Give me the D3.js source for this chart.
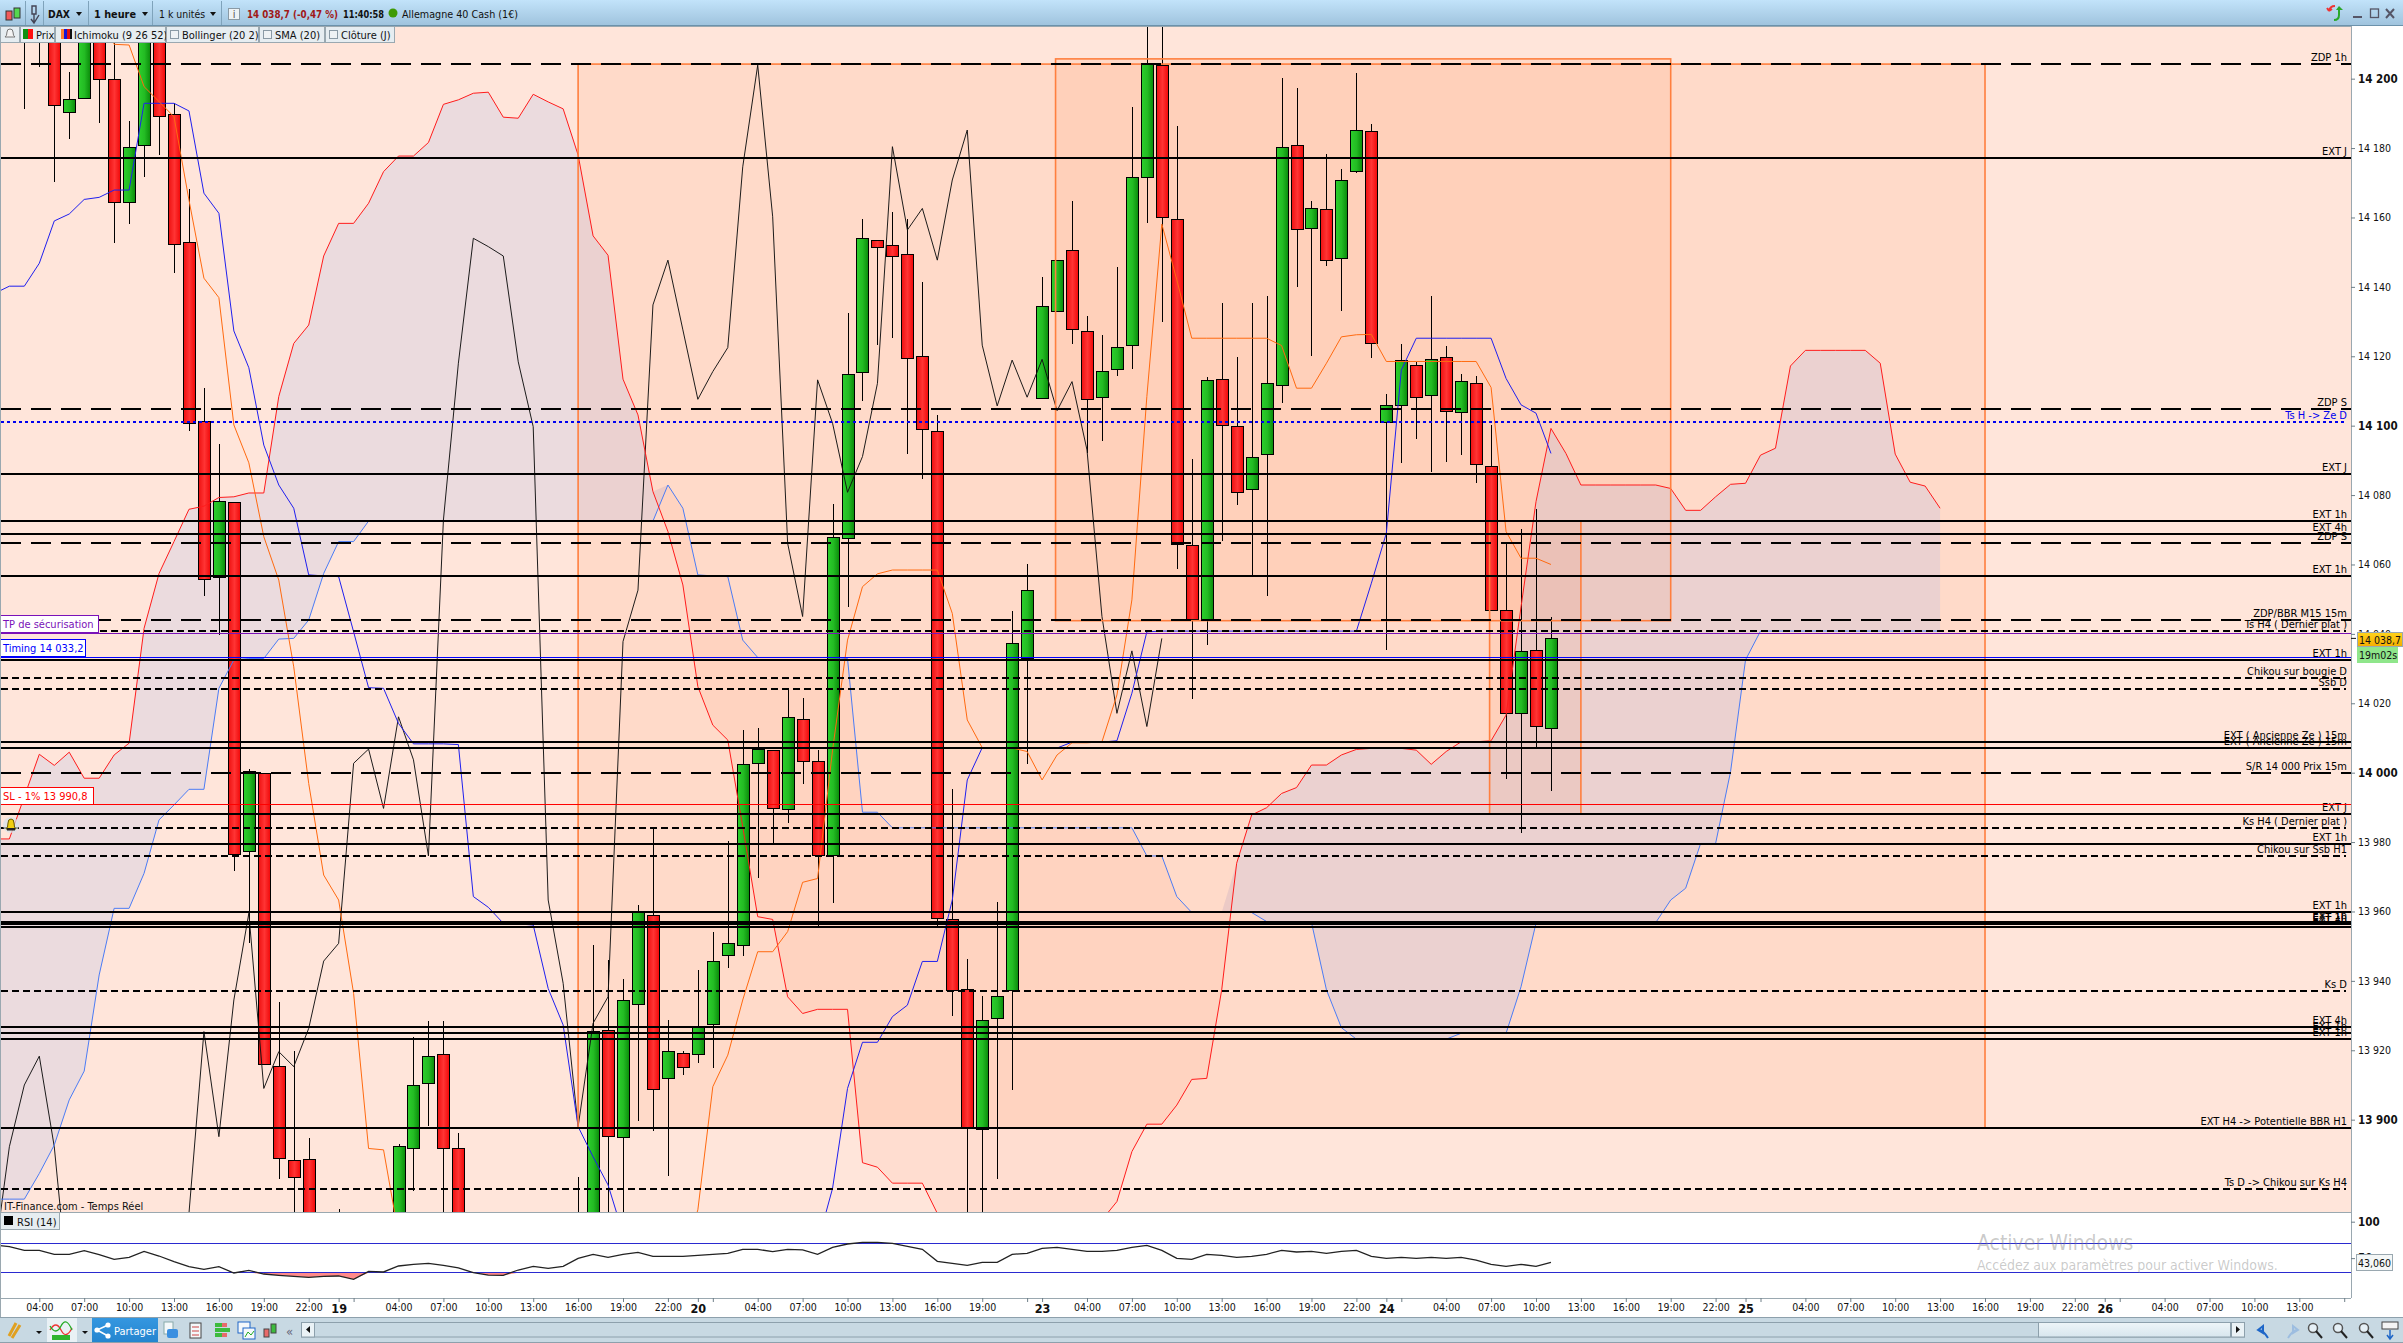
<!DOCTYPE html>
<html>
<head>
<meta charset="utf-8">
<script src="https://cdn.jsdelivr.net/npm/d3@7/dist/d3.min.js"></script>
<style>
  html, body { margin: 0; padding: 0; background: #fff; overflow: hidden; }
  text { font-family: "DejaVu Sans Condensed", "DejaVu Sans", sans-serif; font-stretch: condensed; }
</style>
</head>
<body>
<div id="chart"></div>
<script>
// candles, first one is bar index -1 (04:00 on the 18th is index 0)
const candleOpen = [
  14225,14225,14224,14190.2,14194.3,14222,14199.8,14164.4,14180.8,14222,
  14189.7,14152.8,14101.2,14056.3,14077.9,13977.3,13999.8,13915.4,13888.2,13888.6,
  13858,13860,13850,13848,13855,13865,13891.7,13910.5,13918.8,13891.7,
  13858,13850,13842,13850,13846,13852,13848,13858,13868,13925.6,
  13894.9,13933.2,13958.9,13911.9,13919,13918.8,13927.5,13947.4,13950.2,14002.7,
  14006.3,13989.4,14015.4,14003.3,13976,14067.5,14115.4,14153.4,14152,14149.4,
  14119.9,14098.4,13957.7,13937.6,13897.1,13929.2,13937.2,14032.8,14107.9,14132.9,
  14150.5,14127.2,14108.2,14116.2,14123.2,14171.6,14203.7,14159.5,14065.5,14044,
  14113.4,14099.8,14081.7,14091.7,14111.6,14180.8,14156.8,14162.3,14148.2,14173.3,
  14184.8,14101,14105.9,14117.4,14108.7,14119.7,14103.8,14112.2,14088.3,14046.8,
  14017.1,14035.3,14012.8
];
const candleHigh = [
  14230,14230,14230,14202,14225,14225,14222,14187.8,14225,14225,
  14192.9,14168.2,14111,14094.7,14077.9,14001.2,13999.8,13933.9,13919.8,13894.7,
  13866,13874.4,13860,13862,13868,13892.9,13923.7,13928.4,13928.4,13896.3,
  13868,13860,13856,13862,13858,13865,13862,13883.6,13950.3,13946,
  13940.5,13961.9,13984.1,13928.7,13919.8,13943.2,13954,13980.3,14012.3,14012.8,
  14006.3,14023.8,14021.4,14006.5,14077.4,14132.4,14159.6,14153.4,14161.6,14159.6,
  14141.4,14103.1,13995.3,13946.3,13935.6,13962.8,14046.5,14060.1,14142.8,14147.6,
  14164.7,14131.6,14126.1,14145.7,14191.8,14217,14217,14186.5,14090.4,14113.9,
  14135.4,14119.8,14135.4,14137.4,14200.2,14197.3,14164.7,14178.3,14174,14201.6,
  14186.9,14109.1,14123.5,14118.4,14137.4,14123,14114.9,14114.3,14100.3,14066.1,
  14070.2,14075.9,14044.8
];
const candleLow = [
  14191.4,14203.5,14170.3,14182.6,14194.3,14187.3,14152.7,14158.1,14171.8,14178,
  14144.1,14098.6,14051,14039.7,13971.8,13950.8,13915.9,13882.8,13865,13850,
  13845,13850,13840,13838,13845,13860,13879.3,13898.3,13865,13850,
  13845,13838,13835,13840,13838,13842,13840,13850,13860,13870,
  13870,13899.7,13896.8,13883.9,13912.9,13916.4,13915,13943.8,13947.2,13969.7,
  13979.6,13985.4,13996.7,13955.8,13962.3,14047.8,14107.1,14123.2,14125.4,14091.8,
  14084.6,13955.8,13929.9,13860,13860,13882.9,13908.5,14002.5,14107.9,14132.9,
  14123.5,14092,14095.7,14114.3,14116.4,14158.5,14130,14058.8,14021.3,14036.8,
  14066.9,14077.1,14057,14051,14106.6,14140.1,14120.2,14146.1,14133,14172.9,
  14119.6,14035.4,14089.3,14096.3,14086.7,14089.6,14091.5,14083.6,14046.7,13998.2,
  13982.7,14007.5,13994.8
];
const candleClose = [
  14220,14220,14192.3,14194,14222,14199.8,14164.4,14180.2,14222,14189.1,
  14152.3,14100.7,14055.7,14078.2,13976.5,14000.3,13915.9,13888.9,13883.4,13860,
  13850,13866,13845,13855,13860,13892.2,13909.9,13918.3,13891.7,13860,
  13850,13842,13850,13846,13852,13848,13858,13868,13925.4,13895.2,
  13934.4,13959.7,13908.7,13919.6,13915.1,13926.6,13945.6,13950.8,14002.4,14006.7,
  13989.7,14015.9,14003.3,13976,14067.8,14114.8,14154,14151.4,14148.8,14119.4,
  14098.9,13958,13937.2,13897.7,13928.6,13935.5,14037.3,14052.5,14134.4,14147.6,
  14127.8,14107.6,14115.7,14122.6,14171.6,14204.2,14160,14065.8,14044,14113.1,
  14100.1,14080.8,14090.9,14112.2,14180.2,14156.4,14162.6,14147.6,14170.7,14185.1,
  14123.7,14105.8,14118.8,14108.2,14119.1,14104.1,14112.8,14088.9,14046.7,14017.1,
  14035,14013.4,14038.7
];

// ichimoku lines, all start at bar index -3
const ssaLine = [
  13980.9,13980.9,13993.1,14005.3,14002.1,14005.9,13998.4,13998.4,14005.1,14008.5,
  14041.6,14057.4,14066.6,14075.9,14076.8,14079.3,14079.5,14080.6,14080.6,14108.4,
  14123.7,14129,14148.9,14158.3,14158.3,14164.1,14173.2,14177.7,14177.7,14181.6,
  14192.6,14193.9,14195.8,14196.1,14188.9,14188.6,14195.5,14193.3,14191.3,14178,
  14154.7,14149.1,14113.4,14103.1,14081,14069.5,14054.1,14024.8,14013.7,14009.4,
  13984.4,13958.5,13957.7,13935.4,13930.6,13931.8,13931.8,13931.8,13887.6,13886.3,
  13881.7,13881.7,13881.7,13873,13865,13860,13858,13858,13858,13858,
  13860,13862,13864,13868,13871.1,13876.4,13890.8,13898.7,13898.7,13904.2,
  13911.6,13911.9,13937.4,13973.9,13987.8,13989.9,13994,13995.7,14002.2,14002.2,
  14005.1,14006.7,14007,14007,14007,14006.5,14002.4,14006.1,14008.9,14008.9,
  14009.2,14016.6,14047.8,14078.1,14099.2,14092,14082.9,14082.9,14082.9,14082.9,
  14082.9,14082.9,14081.9,14075.6,14075.6,14079.5,14083.1,14083.4,14091.5,14093.5,
  14117.2,14121.7,14121.7,14121.7,14121.7,14121.7,14118,14091.8,14083.7,14082.6,14076.2
];
const ssbLine = [
  13877.1,13877.1,13877.1,13884.5,13892.7,13905.7,13914,13941.7,13960.9,13960.9,
  13971,13986.4,13990.7,13995.2,13995.2,14024.3,14032.5,14032.9,14032.9,14038.5,
  14038.7,14044,14057.4,14066.6,14066.6,14072.5,14072.5,14072.5,14072.5,14072.5,
  14072.5,14072.5,14072.5,14072.5,14072.5,14072.5,14072.5,14072.5,14072.5,14072.5,
  14072.5,14072.5,14072.5,14072.5,14072.5,14082.9,14076.2,14057,14056.7,14056.5,
  14038.2,14033.2,14033.2,14033.2,14033.2,14033.2,14033.2,14032.9,13988.6,13988.6,
  13984.1,13984.1,13984.1,13984.1,13984.1,13984.1,13984.1,13984.1,13984.1,13984.1,
  13984.1,13984.1,13984.1,13984.1,13984.1,13984.1,13984.1,13976,13976,13964.3,
  13959.7,13959.7,13959.7,13959.7,13959.7,13957.1,13956.8,13956.8,13956.8,13937.4,
  13926.5,13923.2,13923.2,13923.2,13923.2,13923.2,13923.2,13923.2,13924.9,13924.9,
  13924.9,13924.9,13938.3,13956.6,13956.8,13956.8,13956.8,13956.8,13956.8,13956.8,
  13956.8,13956.8,13963.3,13966.7,13979.6,13979.6,14000.3,14032.5,14040.8,14040.8,
  14040.8,14040.8,14040.8,14040.8,14040.8,14040.8,14040.8,14040.8,14040.8,14040.8,14040.8
];
const kijunLine = [
  14138.1,14140.2,14140.2,14146.8,14159,14161,14165.2,14165.8,14167.9,14167.9,
  14192.9,14192.9,14192.9,14190.7,14167,14161.2,14127.3,14116.7,14094.4,14082.9,
  14076.2,14057,14056.7,14056.5,14040.6,14024.5,14024.3,14014.2,14008.3,14008.3,
  14008.3,14008.1,13964.3,13961.2,13956.6,13956.4,13956.1,13937.8,13927.3,13898,
  13889.3,13881.2,13867.2,13860,13860,13860,13860,13860,13860,13860,
  13860,13860,13860,13860,13860,13864.4,13880.2,13909,13922.3,13922.3,
  13929.7,13933,13945.6,13945.6,13963.3,13997.9,14007.2,14007.1,14007.1,14007.1,
  14007.1,14007.1,14008.8,14008.8,14008.8,14009.2,14022.9,14040.6,14040.8,14040.8,
  14040.8,14040.8,14040.8,14040.8,14040.8,14040.8,14040.8,14040.8,14040.8,14040.8,
  14040.8,14040.8,14054.6,14069,14116,14125.2,14125.2,14125.2,14125.2,14125.2,
  14125.2,14113.6,14106,14103.6,14092
];
const tenkanLine = [
  14222,14222,14222,14222,14222,14222,14222,14222,14209.9,14209.7,
  14197.7,14193.4,14189,14165,14142.5,14136.9,14100.2,14089.3,14068,14055.5,
  14030.5,13996.9,13970.5,13963.3,13936.4,13891.7,13891.3,13867,13860,13860,
  13860,13860,13860,13860,13860,13860,13860,13860,13860,13860,
  13860,13860,13860,13860,13860,13860,13860,13874,13909.5,13918.6,
  13934.5,13948.4,13948.4,13954.2,13968.4,13969.5,14006.5,14038.2,14053.6,14057.3,
  14058.4,14058.4,14058.4,14058.4,14045.9,14015.2,14007.2,14007.1,14007.1,14006.1,
  13997.9,14005.1,14008.6,14008.6,14008.9,14022.4,14049.8,14108.4,14158.1,14142,
  14125.2,14125.2,14125.2,14125.2,14125.2,14125.2,14123.1,14110.8,14110.8,14118,
  14125.6,14126.2,14126.3,14118.5,14118.5,14118.5,14118.5,14118.5,14118.5,14118.5,
  14111,14069.5,14061.8,14061.8,14060
];
const chikouLine = [
  13860,13892.2,13910,13918.3,13892.2,13848,13850,13850,13850,13850,
  13850,13850,13850,13873,13925.4,13895.1,13934.5,13959.5,13909,13919.6,
  13915.3,13926.3,13945.7,13950.8,14002.7,14006.8,13989.7,14016.1,14003.7,13976,
  14072.8,14118,14154,14151.6,14148.9,14118.4,14099.7,13963.3,13939.3,13898,
  13927.8,13935.4,14037.8,14052.6,14134.8,14147.7,14127.6,14107.6,14115.6,14122.5,
  14174.6,14203.9,14160.2,14066.1,14045,14113.2,14100.7,14080.8,14091.1,14112.2,
  14180.4,14156.4,14162.6,14147.7,14170.8,14185.2,14123.2,14105.7,14118.9,14108.2,
  14119.1,14104.3,14112.7,14093,14045,14017.1,14035.1,14013.3,14038.7
];

// RSI (14), starts at bar index -3
const rsiLine = [
  68,65.7,60.7,60.7,55.2,55.2,60.2,54.8,48.3,51.1,
  59.3,52.9,45.1,38.3,34.6,38.3,29.6,33.3,28.2,26.4,
  25,23.6,25,25.5,20.9,31.9,31,39.2,41.5,42.9,
  40.1,36.5,30.1,26.8,26.4,33.7,38.7,36,38.7,49.7,
  55.2,51.1,55.2,58,52.5,52.5,52.5,53.8,55.2,56.6,
  62.1,62.1,58.9,62.1,61.2,55.2,64.8,69.4,71.7,71.7,
  70.3,66.2,62.1,45.6,42.9,40.1,44.2,44.2,55.2,56.6,
  63.4,64.8,62.1,59.3,59.3,60.7,64.8,67.6,60.7,49.7,
  48.3,55.2,53.8,51.1,52.5,55.2,60.7,58.4,59.3,56.6,
  59.3,60.7,52.5,49.7,51.1,49.7,51.1,49.7,51.1,47.4,
  41.5,38.7,41.5,38.7,44.2
];

// horizontal levels
const solidLevels = [14177.1,14086.1,14072.5,14068.8,14056.7,14032.5,14008.8,14007.1,13988.1,13979.4,13959.8,13956.9,13956.3,13955.6,13926.7,13925,13923.2,13897.6];
const solidLabels = ["EXT J","EXT J","EXT 1h","EXT 4h","EXT 1h","EXT 1h","EXT ( Ancienne Ze ) 15m","EXT ( Ancienne Ze ) 15m","EXT J","EXT 1h","EXT 1h","EXT 1h","EXT 1h","EXT 4h","EXT 4h","EXT 1h","EXT 1h","EXT H4 -> Potentielle BBR H1"];
const dashedLevels = [14204.2,14104.8,14066.2,14044,14000];
const dashedLabels = ["ZDP 1h","ZDP S","ZDP S","ZDP/BBR M15 15m","S/R 14 000 Prix 15m"];
const dottedLevels = [14040.8,14027.3,14024.1,13984.1,13976,13937.1,13880];
const dottedLabels = ["Ts H4 ( Dernier plat )","Chikou sur bougie D","Ssb D","Ks H4 ( Dernier plat )","Chikou sur Ssb H1","Ks D","Ts D -> Chikou sur Ks H4"];
const blueDottedLevels = [14101.1];
const blueDottedLabels = ["Ts H -> Ze D"];

// orders drawn on the chart
const orderLevels = [14040.2,14033.2,13990.8];
const orderLabels = ["TP de sécurisation","Timing 14 033,2","SL - 1% 13 990,8"];

// session boxes, in bar index and price
const boxStart = [36,67.9,96.9];
const boxEnd = [130,109,103];
const boxHigh = [14204.2,14205.7,14072.5];
const boxLow = [13897.6,14043.8,13988.1];

// axes
const priceTicks = [14200,14180,14160,14140,14120,14100,14080,14060,14040,14020,14000,13980,13960,13940,13920,13900];
const boldPrices = [14200,14100,14000,13900];
const timeTickIdx = [0,3,6,9,12,15,18,20,21,24,27,30,33,36,39,42,44,45,48,51,54,57,60,63,66,67,70,73,76,79,82,85,88,90,91,94,97,100,103,106,109,112,114,115,118,121,124,127,130,133,136,138,139,142,145,148,151,154];
const timeTickLbl = ["04:00","07:00","10:00","13:00","16:00","19:00","22:00","19","","04:00","07:00","10:00","13:00","16:00","19:00","22:00","20","","04:00","07:00","10:00","13:00","16:00","19:00","","23","04:00","07:00","10:00","13:00","16:00","19:00","22:00","24","","04:00","07:00","10:00","13:00","16:00","19:00","22:00","25","","04:00","07:00","10:00","13:00","16:00","19:00","22:00","26","","04:00","07:00","10:00","13:00",""];

const W = 2403, H = 1343;
const plotR = 2351, plotT = 26, plotB = 1212, rsiB = 1298;

const svg = d3.select("#chart").append("svg").attr("width", W).attr("height", H);
const defs = svg.append("defs");

function grad(id, stops, vertical) {
  const g = defs.append("linearGradient").attr("id", id)
    .attr("x1", 0).attr("y1", 0).attr("x2", vertical ? 0 : 1).attr("y2", vertical ? 1 : 0);
  stops.forEach((c, i) => g.append("stop").attr("offset", i / (stops.length - 1)).attr("stop-color", c));
}
grad("upBar", ["#2ccf2c", "#23bb23", "#0a8a0a"]);
grad("downBar", ["#ee1010", "#ff3434", "#f00808"]);
grad("topBar", ["#c2e3fa", "#9fc3dd"], true);
grad("tagYellow", ["#ffd31c", "#f4ad00"], true);
grad("btnBlue", ["#3497e0", "#2585cf"], true);
grad("thumb", ["#eef5f8", "#d8e6ee"], true);

defs.append("clipPath").attr("id", "plotClip").append("rect")
  .attr("x", 0).attr("y", plotT).attr("width", plotR).attr("height", plotB - plotT);

const x = d3.scaleLinear().domain([0, 154]).range([39.3, 39.3 + 154 * 14.967]);
const y = d3.scaleLinear().domain([13900, 14200]).range([1119.67, 78.67]);
const rsiY = d3.scaleLinear().domain([30, 100]).range([1272.7, 1221.7]);

svg.append("rect").attr("width", W).attr("height", H).attr("fill", "#fff");
svg.append("rect").attr("y", plotT).attr("width", plotR).attr("height", plotB - plotT).attr("fill", "#ffe5da");

const plot = svg.append("g").attr("clip-path", "url(#plotClip)");

// session boxes fill
const boxIdx = d3.range(boxStart.length);
plot.selectAll(".boxFill").data(boxIdx).enter().append("rect")
  .attr("x", i => x(boxStart[i])).attr("width", i => x(boxEnd[i]) - x(boxStart[i]))
  .attr("y", i => y(boxHigh[i])).attr("height", i => y(boxLow[i]) - y(boxHigh[i]))
  .attr("fill", "rgb(255,127,63)").attr("fill-opacity", 0.1);

// cloud
const cloudIdx = d3.range(ssaLine.length);
const barX = i => x(i - 3);
plot.append("path").datum(cloudIdx)
  .attr("d", d3.area().x(barX).y0(i => y(ssbLine[i])).y1(i => y(Math.max(ssaLine[i], ssbLine[i]))))
  .attr("fill", "rgb(97,154,255)").attr("fill-opacity", 0.13);
plot.append("path").datum(cloudIdx)
  .attr("d", d3.area().x(barX).y0(i => y(ssaLine[i])).y1(i => y(Math.max(ssaLine[i], ssbLine[i]))))
  .attr("fill", "rgb(255,110,50)").attr("fill-opacity", 0.06);

// candles
const candleIdx = d3.range(candleOpen.length);
const candleX = i => Math.round(x(i - 1));
const wicks = plot.append("g").attr("shape-rendering", "crispEdges");
wicks.selectAll("line").data(candleIdx).enter().append("line")
  .attr("x1", i => candleX(i) + 0.5).attr("x2", i => candleX(i) + 0.5)
  .attr("y1", i => y(candleHigh[i])).attr("y2", i => y(candleLow[i]))
  .attr("stroke", "#000").attr("stroke-width", 1);
const bodies = plot.append("g").attr("shape-rendering", "crispEdges");
bodies.selectAll("rect").data(candleIdx).enter().append("rect")
  .attr("x", i => candleX(i) - 5.5).attr("width", 12)
  .attr("y", i => y(Math.max(candleOpen[i], candleClose[i])))
  .attr("height", i => Math.abs(y(candleOpen[i]) - y(candleClose[i])))
  .attr("fill", i => candleClose[i] >= candleOpen[i] ? "url(#upBar)" : "url(#downBar)")
  .attr("stroke", "#000").attr("stroke-width", 1);

// ichimoku lines
function drawLine(values, color, width, opacity) {
  plot.append("path").datum(values)
    .attr("d", d3.line().x((d, i) => x(i - 3)).y(d => y(d)))
    .attr("fill", "none").attr("stroke", color).attr("stroke-width", width).attr("stroke-opacity", opacity);
}
drawLine(chikouLine, "#111", 1, 0.95);
drawLine(ssbLine, "#4b7cf5", 1, 1);
drawLine(ssaLine, "#ff1c1c", 1, 1);
drawLine(kijunLine, "#1f1fef", 1, 1);
drawLine(tenkanLine, "#ff6a10", 1, 1);

// session boxes outline
plot.selectAll(".boxEdge").data(boxIdx).enter().append("rect")
  .attr("x", i => x(boxStart[i])).attr("width", i => x(boxEnd[i]) - x(boxStart[i]))
  .attr("y", i => y(boxHigh[i])).attr("height", i => y(boxLow[i]) - y(boxHigh[i]))
  .attr("fill", "none").attr("stroke", "#ff7f3f").attr("stroke-width", 1.6);

// levels
function drawLevels(levels, labels, color, width, dash, endX) {
  const g = svg.append("g").attr("shape-rendering", "crispEdges");
  g.selectAll("line").data(levels).enter().append("line")
    .attr("x1", 1).attr("x2", endX)
    .attr("y1", d => Math.round(y(d))).attr("y2", d => Math.round(y(d)))
    .attr("stroke", color).attr("stroke-width", width).attr("stroke-dasharray", dash);
  svg.append("g").selectAll("text").data(labels).enter().append("text")
    .attr("x", 2347).attr("y", (d, i) => y(levels[i]) - 3)
    .attr("text-anchor", "end").attr("font-size", 11).attr("fill", color).text(d => d);
}
drawLevels(dottedLevels, dottedLabels, "#000", 2, "7 4", 2346);
drawLevels(blueDottedLevels, blueDottedLabels, "#0000ee", 2, "3 3", 2346);
drawLevels(dashedLevels, dashedLabels, "#000", 2, "20 10", plotR);
drawLevels(solidLevels, solidLabels, "#000", 2, null, plotR);

// order lines with their boxes
const orderColor = ["#7a12b8", "#0000ff", "#ff0000"];
const orderBoxW = [98, 85, 93];
const orderLines = svg.append("g").attr("shape-rendering", "crispEdges");
orderLevels.forEach((lvl, i) => {
  orderLines.append("line").attr("x1", 1).attr("x2", plotR).attr("y1", y(lvl)).attr("y2", y(lvl))
    .attr("stroke", orderColor[i]).attr("stroke-width", 1);
  orderLines.append("rect").attr("x", 0.5).attr("y", y(lvl) - 17.5).attr("width", orderBoxW[i]).attr("height", 17)
    .attr("fill", "#fff").attr("stroke", orderColor[i]);
  svg.append("text").attr("x", 3).attr("y", y(lvl) - 5).attr("font-size", 11)
    .attr("fill", orderColor[i]).text(orderLabels[i]);
});

// bell on the alert level
const bell = svg.append("g").attr("transform", "translate(11,825)");
bell.append("circle").attr("r", 8).attr("fill", "#d6e3ea").attr("opacity", 0.7);
bell.append("path").attr("d", "M-5,4 Q-3,3 -3,-2 Q-3,-6 0,-6 Q3,-6 3,-2 Q3,3 5,4 Z").attr("fill", "#f0cf10").attr("stroke", "#6a5a00");
bell.append("rect").attr("x", -4).attr("y", 3).attr("width", 8).attr("height", 2.5).attr("fill", "#222");

svg.append("text").attr("x", 4).attr("y", 1210).attr("font-size", 11).attr("fill", "#111").text("IT-Finance.com - Temps Réel");

// RSI panel
const rsiIdx = d3.range(rsiLine.length);
svg.append("path").datum(rsiIdx)
  .attr("d", d3.area().x(barX).y0(rsiY(30)).y1(i => rsiY(Math.min(rsiLine[i], 30))))
  .attr("fill", "#ff8a8a");
svg.append("g").attr("shape-rendering", "crispEdges").selectAll("line").data([70, 30]).enter().append("line")
  .attr("x1", 0).attr("x2", plotR).attr("y1", d => rsiY(d)).attr("y2", d => rsiY(d))
  .attr("stroke", "#2a2ad0").attr("stroke-width", 1);
svg.append("path").datum(rsiLine)
  .attr("d", d3.line().x((d, i) => x(i - 3)).y(d => rsiY(d)))
  .attr("fill", "none").attr("stroke", "#222").attr("stroke-width", 1.3);

svg.append("g").attr("shape-rendering", "crispEdges").selectAll("line")
  .data([[plotT, plotT], [plotB, plotB], [rsiB, rsiB]]).enter().append("line")
  .attr("x1", 0).attr("x2", plotR).attr("y1", d => d[0]).attr("y2", d => d[1]).attr("stroke", "#9aa8b0");
svg.append("line").attr("x1", plotR + 0.5).attr("x2", plotR + 0.5).attr("y1", plotT).attr("y2", rsiB).attr("stroke", "#9aa8b0");
svg.append("line").attr("x1", 0.5).attr("x2", 0.5).attr("y1", plotT).attr("y2", H).attr("stroke", "#9aa8b0");

// RSI legend
svg.append("rect").attr("x", 0.5).attr("y", plotB + 0.5).attr("width", 59).attr("height", 17).attr("fill", "#e6edf1").attr("stroke", "#9aa8b0");
svg.append("rect").attr("x", 4).attr("y", 1216).attr("width", 9).attr("height", 9).attr("fill", "#000");
svg.append("text").attr("x", 17).attr("y", 1226).attr("font-size", 11).attr("fill", "#111").text("RSI (14)");

// price axis
const fmtPrice = v => String(v).replace(/(\d+)(\d{3})$/, "$1 $2");
const priceAxis = svg.append("g").attr("transform", `translate(${plotR},0)`)
  .call(d3.axisRight(y).tickValues(priceTicks).tickFormat(fmtPrice).tickSize(4).tickPadding(3));
priceAxis.select(".domain").remove();
priceAxis.selectAll("line").attr("stroke", "#6f7f88");
priceAxis.selectAll("text")
  .attr("fill", "#111")
  .attr("font-size", d => boldPrices.includes(d) ? 11.5 : 10.5)
  .attr("font-weight", d => boldPrices.includes(d) ? "bold" : "normal");

// RSI axis
const rsiAxis = svg.append("g").attr("transform", `translate(${plotR},0)`)
  .call(d3.axisRight(rsiY).tickValues([100, 50]).tickSize(4).tickPadding(3));
rsiAxis.select(".domain").remove();
rsiAxis.selectAll("line").attr("stroke", "#6f7f88");
rsiAxis.selectAll("text").attr("fill", "#111").attr("font-size", 11.5).attr("font-weight", "bold");

// time axis
const timeAxis = svg.append("g").attr("transform", `translate(0,${rsiB})`)
  .call(d3.axisBottom(x).tickValues(timeTickIdx)
    .tickFormat(d => timeTickLbl[timeTickIdx.indexOf(d)]).tickSize(4).tickPadding(2));
timeAxis.select(".domain").remove();
timeAxis.selectAll("line").attr("stroke", "#6f7f88");
timeAxis.selectAll("text").attr("fill", "#111")
  .attr("font-size", d => timeTickLbl[timeTickIdx.indexOf(d)].length < 3 ? 12.5 : 10.5)
  .attr("font-weight", d => timeTickLbl[timeTickIdx.indexOf(d)].length < 3 ? "bold" : "normal");

// last price tags
svg.append("rect").attr("x", 2357.5).attr("y", 632.5).attr("width", 45).attr("height", 14).attr("fill", "url(#tagYellow)").attr("stroke", "#9aa8b0");
svg.append("text").attr("x", 2359).attr("y", 643.5).attr("font-size", 10.5).attr("fill", "#111").text("14 038,7");
svg.append("rect").attr("x", 2357).attr("y", 647).attr("width", 41).attr("height", 16).attr("fill", "#8fe68b");
svg.append("text").attr("x", 2359).attr("y", 659).attr("font-size", 10.5).attr("fill", "#111").text("19m02s");
svg.append("line").attr("x1", plotR).attr("x2", plotR + 5).attr("y1", y(14038.7)).attr("y2", y(14038.7)).attr("stroke", "#111");

svg.append("rect").attr("x", 2356.5).attr("y", 1254.5).attr("width", 36).attr("height", 16).attr("fill", "#f4f7f7").attr("stroke", "#9aa8b0");
svg.append("text").attr("x", 2358).attr("y", 1267).attr("font-size", 10.5).attr("fill", "#111").text("43,060");

// windows watermark
svg.append("text").attr("x", 1977).attr("y", 1250).attr("font-size", 21).attr("fill", "#7f7f7f").attr("fill-opacity", 0.42).text("Activer Windows");
svg.append("text").attr("x", 1977).attr("y", 1270).attr("font-size", 14).attr("fill", "#7f7f7f").attr("fill-opacity", 0.42).text("Accédez aux paramètres pour activer Windows.");

// top toolbar
const topBar = svg.append("g");
topBar.append("rect").attr("width", W).attr("height", 25.5).attr("fill", "url(#topBar)");
topBar.append("line").attr("x1", 0).attr("x2", W).attr("y1", 25.5).attr("y2", 25.5).attr("stroke", "#6c92ab");
[25, 43, 88, 152, 221].forEach(sx => topBar.append("line").attr("x1", sx + 0.5).attr("x2", sx + 0.5).attr("y1", 1).attr("y2", 25).attr("stroke", "#7fa3bb"));
topBar.append("rect").attr("x", 6).attr("y", 11).attr("width", 6).attr("height", 9).attr("fill", "#f25a5a").attr("stroke", "#333");
topBar.append("rect").attr("x", 14).attr("y", 8).attr("width", 6).attr("height", 10).attr("fill", "#55d84f").attr("stroke", "#333");
topBar.append("path").attr("d", "M32,6 L36,6 L36,14 L32,14 Z M34,14 L34,22 M31,19 L34,23 L39,15").attr("fill", "none").attr("stroke", "#445").attr("stroke-width", 1.4);
const topTexts = [
  ["DAX", 48, "bold", "#111", 22], ["1 heure", 94, "bold", "#111", 42], ["1 k unités", 159, "normal", "#111", 46],
  ["14 038,7 (-0,47 %)", 247, "bold", "#a01818", 91], ["11:40:58", 343, "bold", "#111", 41], ["Allemagne 40 Cash (1€)", 402, "normal", "#111", 116]
];
topTexts.forEach(t => topBar.append("text").attr("x", t[1]).attr("y", 18).attr("font-size", 11)
  .attr("font-weight", t[2]).attr("fill", t[3])
  .attr("textLength", t[4]).attr("lengthAdjust", "spacingAndGlyphs").text(t[0]));
[79, 145, 213].forEach(sx => topBar.append("path").attr("d", `M${sx - 3},12 L${sx + 3},12 L${sx},16 Z`).attr("fill", "#111"));
topBar.append("rect").attr("x", 228.5).attr("y", 8.5).attr("width", 11).attr("height", 11).attr("fill", "#eef3f6").attr("stroke", "#8a9aa5");
topBar.append("text").attr("x", 234).attr("y", 18).attr("font-size", 11).attr("text-anchor", "middle").attr("fill", "#555").text("i");
topBar.append("circle").attr("cx", 393).attr("cy", 13).attr("r", 4.5).attr("fill", "#3f9a05");
topBar.append("path").attr("d", "M2329,11 Q2330,6 2335,6 M2329,11 L2327,8 M2329,11 L2332,9").attr("fill", "none").attr("stroke", "#e33").attr("stroke-width", 2);
topBar.append("path").attr("d", "M2339,9 L2339,15 Q2339,20 2334,20").attr("fill", "none").attr("stroke", "#2aa82a").attr("stroke-width", 2);
topBar.append("path").attr("d", "M2336,10 L2339,6 L2343,10 Z").attr("fill", "#2aa82a");
topBar.append("line").attr("x1", 2353).attr("x2", 2362).attr("y1", 17).attr("y2", 17).attr("stroke", "#556").attr("stroke-width", 2);
topBar.append("rect").attr("x", 2370.5).attr("y", 9).attr("width", 8).attr("height", 8.5).attr("fill", "none").attr("stroke", "#556").attr("stroke-width", 1.3);
topBar.append("path").attr("d", "M2386,9 L2394,18 M2394,9 L2386,18").attr("stroke", "#556").attr("stroke-width", 2);

// indicator legend row
const cellX = [0, 20, 55, 166, 259, 325];
const cellW = [19, 34, 110, 92, 65, 69];
const cellText = ["", "Prix", "Ichimoku (9 26 52)", "Bollinger (20 2)", "SMA (20)", "Clôture (J)"];
const cellTextX = [0, 36, 74, 182, 275, 341];
const legend = svg.append("g");
cellX.forEach((cx, i) => {
  legend.append("rect").attr("x", cx + 0.5).attr("y", 26.5).attr("width", cellW[i]).attr("height", 16).attr("fill", "#e6edf1").attr("stroke", "#9aa8b0");
  legend.append("text").attr("x", cellTextX[i]).attr("y", 39).attr("font-size", 11).attr("fill", "#111").text(cellText[i]);
});
legend.append("path").attr("d", "M5,37 Q7,36 7,32 Q7,29 10,29 Q13,29 13,32 Q13,36 15,37 Z").attr("fill", "#f4f4f4").attr("stroke", "#777");
legend.append("rect").attr("x", 23).attr("y", 29).attr("width", 5).attr("height", 10).attr("fill", "#0f8f0f");
legend.append("rect").attr("x", 28).attr("y", 29).attr("width", 5).attr("height", 10).attr("fill", "#ff1010");
legend.append("rect").attr("x", 61).attr("y", 29).attr("width", 3).attr("height", 10).attr("fill", "#ff7f2f");
legend.append("rect").attr("x", 64).attr("y", 29).attr("width", 3).attr("height", 10).attr("fill", "#1515d5");
legend.append("rect").attr("x", 67).attr("y", 29).attr("width", 3).attr("height", 10).attr("fill", "#e01010");
legend.append("rect").attr("x", 70).attr("y", 29).attr("width", 2).attr("height", 10).attr("fill", "#111");
[170, 263, 329].forEach(sx => legend.append("rect").attr("x", sx + 0.5).attr("y", 30.5).attr("width", 8).attr("height", 8).attr("fill", "#eef2f4").attr("stroke", "#8a9aa5"));

// bottom toolbar
const bottomBar = svg.append("g");
bottomBar.append("rect").attr("y", 1317).attr("width", W).attr("height", 26).attr("fill", "#c8d9e3");
bottomBar.append("line").attr("x1", 0).attr("x2", W).attr("y1", 1317.5).attr("y2", 1317.5).attr("stroke", "#8da0ac");
bottomBar.append("line").attr("x1", 0).attr("x2", W).attr("y1", 1342.5).attr("y2", 1342.5).attr("stroke", "#8da0ac");
bottomBar.append("rect").attr("x", 47).attr("y", 1318).attr("width", 30).attr("height", 24).attr("fill", "#e9f1f5");
bottomBar.append("rect").attr("x", 92).attr("y", 1318).attr("width", 66).attr("height", 24).attr("fill", "url(#btnBlue)");
bottomBar.append("text").attr("x", 114).attr("y", 1335).attr("font-size", 11).attr("fill", "#fff").text("Partager");
bottomBar.append("path").attr("d", "M108,1325 L97,1330 L108,1336").attr("fill", "none").attr("stroke", "#fff").attr("stroke-width", 1.5);
[[108, 1325], [97, 1330], [108, 1336]].forEach(p => bottomBar.append("circle").attr("cx", p[0]).attr("cy", p[1]).attr("r", 2.6).attr("fill", "#fff"));
bottomBar.append("path").attr("d", "M9,1336 L16,1323 M12,1338 L20,1325").attr("stroke", "#e0a020").attr("stroke-width", 3);
bottomBar.append("path").attr("d", "M50,1330 Q56,1320 61,1330 T72,1328").attr("fill", "none").attr("stroke", "#e33").attr("stroke-width", 1.3);
bottomBar.append("path").attr("d", "M50,1326 Q56,1336 61,1326 T72,1330").attr("fill", "none").attr("stroke", "#2a2").attr("stroke-width", 1.3);
bottomBar.append("rect").attr("x", 52).attr("y", 1335).attr("width", 18).attr("height", 5).attr("fill", "#2eb52e");
[[35, 1331], [81, 1331]].forEach(p => bottomBar.append("path").attr("d", `M${p[0] + 1},${p[1]} l6,0 l-3,3 Z`).attr("fill", "#111"));
// small tool icons
bottomBar.append("rect").attr("x", 164).attr("y", 1322).attr("width", 9).attr("height", 12).attr("fill", "#f4f8fa").attr("stroke", "#8aa");
bottomBar.append("rect").attr("x", 167).attr("y", 1329).attr("width", 11).attr("height", 9).attr("rx", 2).attr("fill", "#3b8fe0");
bottomBar.append("rect").attr("x", 190).attr("y", 1323).attr("width", 11).attr("height", 15).attr("fill", "#f4f8fa").attr("stroke", "#444");
bottomBar.append("path").attr("d", "M192,1327 h7 M192,1331 h7 M192,1335 h7").attr("stroke", "#c44");
[1323, 1328, 1333].forEach((py, k) => {
  bottomBar.append("rect").attr("x", 215).attr("y", py).attr("width", 7).attr("height", 4).attr("fill", "#3dbb3d");
  bottomBar.append("rect").attr("x", 222).attr("y", py).attr("width", 5 + (k % 2) * 3).attr("height", 4).attr("fill", k === 1 ? "#3dbb3d" : "#e86a6a");
});
bottomBar.append("rect").attr("x", 238).attr("y", 1322).attr("width", 12).attr("height", 11).attr("fill", "#f4f8fa").attr("stroke", "#1e66c8");
bottomBar.append("rect").attr("x", 243).attr("y", 1328).attr("width", 12).attr("height", 11).attr("fill", "#f4f8fa").attr("stroke", "#1e66c8");
bottomBar.append("path").attr("d", "M245,1337 l3,-5 l3,3 l3,-4").attr("fill", "none").attr("stroke", "#2a2");
bottomBar.append("rect").attr("x", 264).attr("y", 1329).attr("width", 5).attr("height", 8).attr("fill", "#e86a6a").attr("stroke", "#444");
bottomBar.append("rect").attr("x", 271).attr("y", 1324).attr("width", 5).attr("height", 9).attr("fill", "#3dbb3d").attr("stroke", "#444");
bottomBar.append("text").attr("x", 286).attr("y", 1336).attr("font-size", 13).attr("fill", "#667").text("«");
bottomBar.append("rect").attr("x", 301.5).attr("y", 1322.5).attr("width", 1943).attr("height", 14.5).attr("fill", "#c8d9e3").attr("stroke", "#8da0ac");
bottomBar.append("rect").attr("x", 2038.5).attr("y", 1322.5).attr("width", 192).attr("height", 14.5).attr("fill", "url(#thumb)").attr("stroke", "#8da0ac");
bottomBar.append("rect").attr("x", 301.5).attr("y", 1322.5).attr("width", 13).attr("height", 14.5).attr("fill", "#eaf2f6").attr("stroke", "#8da0ac");
bottomBar.append("rect").attr("x", 2231.5).attr("y", 1322.5).attr("width", 13).attr("height", 14.5).attr("fill", "#eaf2f6").attr("stroke", "#8da0ac");
bottomBar.append("path").attr("d", "M310,1326 l0,7 l-4,-3.5 Z M2236,1326 l0,7 l4,-3.5 Z").attr("fill", "#111");
bottomBar.append("path").attr("d", "M2268,1338 Q2263,1330 2259,1330 M2258,1330 l5,-4 l0,7 Z").attr("fill", "none").attr("stroke", "#1e66c8").attr("stroke-width", 2);
bottomBar.append("path").attr("d", "M2288,1338 Q2293,1330 2297,1330 M2298,1330 l-5,-4 l0,7 Z").attr("fill", "none").attr("stroke", "#9dbde0").attr("stroke-width", 2);
[[2313, "#555"], [2338, "#555"], [2364, "#555"]].forEach(p => {
  bottomBar.append("circle").attr("cx", p[0]).attr("cy", 1328).attr("r", 4.5).attr("fill", "#e6f0f6").attr("stroke", p[1]).attr("stroke-width", 1.5);
  bottomBar.append("line").attr("x1", p[0] + 3).attr("y1", 1331).attr("x2", p[0] + 9).attr("y2", 1338).attr("stroke", "#222").attr("stroke-width", 2);
});
bottomBar.append("rect").attr("x", 2382).attr("y", 1322).attr("width", 16).attr("height", 7).attr("fill", "#f4f4f4").attr("stroke", "#444");
bottomBar.append("path").attr("d", "M2390,1330 L2390,1338 M2387,1335 L2390,1339 L2393,1335").attr("fill", "none").attr("stroke", "#1e66c8").attr("stroke-width", 1.5);
</script>
</body>
</html>
